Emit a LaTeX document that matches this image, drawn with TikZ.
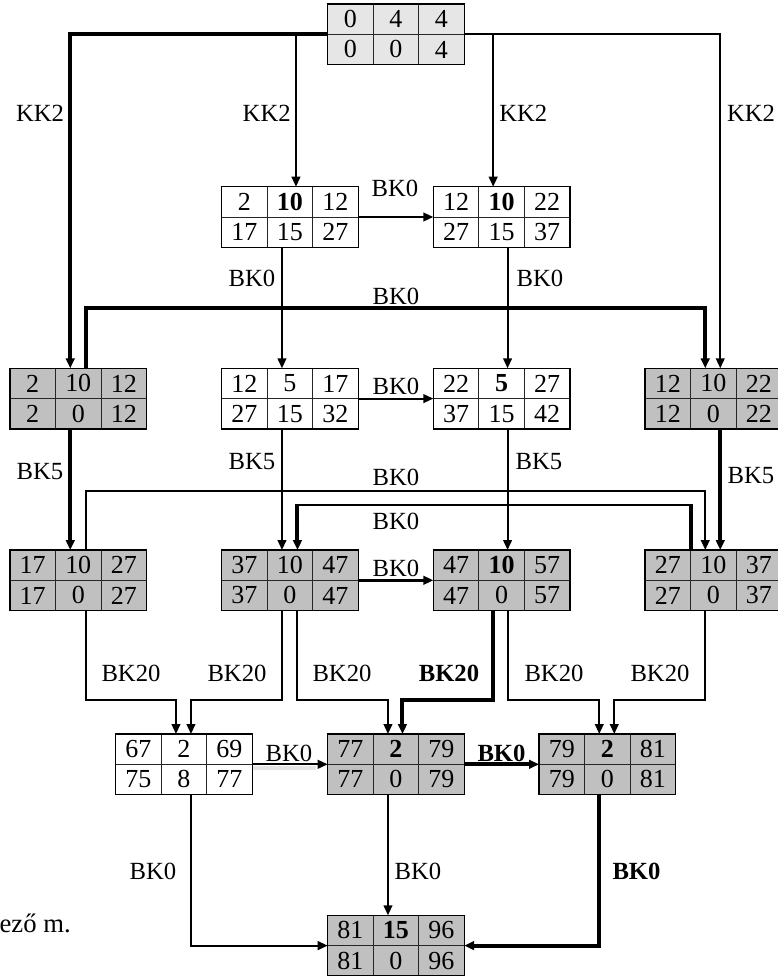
\documentclass[tikz,border=0pt]{standalone}
\usepackage{fontspec}
\setmainfont{Liberation Serif}
\usetikzlibrary{calc,arrows.meta}
\definecolor{boxgray}{HTML}{C0C0C0}
\definecolor{toplight}{HTML}{E6E6E6}
\definecolor{shadowgray}{HTML}{E4E4E4}
\tikzset{
  tbl/.style={draw, line width=1.1pt, minimum width=102.4pt, minimum height=45.45pt, inner sep=0pt, outer sep=0pt},
  gridln/.style={line width=0.7pt, black!85},
  cell/.style={font=\fontsize{19.5}{21}\selectfont, inner sep=0pt},
  lbl/.style={font=\fontsize{18.5}{20}\selectfont, inner sep=0pt},
  tip/.style={-{Triangle[length=7.5pt,width=6.5pt]}},
  plainln/.style={line width=1.5pt},
  heavyln/.style={line width=3pt},
  mediumln/.style={line width=2.2pt},
}
\newcommand{\cellbox}[9]{%
  \node[tbl, fill=#3, anchor=north west] (#1) at #2 {};
  \draw[gridln] ($(#1.north west)+(45.5,0)$) -- ($(#1.south west)+(45.5,0)$)
                ($(#1.north west)+(91,0)$) -- ($(#1.south west)+(91,0)$)
                (#1.west) -- (#1.east);
  \draw[line width=1.1pt] (#1.north west) rectangle (#1.south east);
  \node[cell] at ($(#1.north west)+(22.75,15.15)$) {#4};
  \node[cell] at ($(#1.north west)+(68.25,15.15)$) {#5};
  \node[cell] at ($(#1.north west)+(113.75,15.15)$) {#6};
  \node[cell] at ($(#1.north west)+(22.75,45.45)$) {#7};
  \node[cell] at ($(#1.north west)+(68.25,45.45)$) {#8};
  \node[cell] at ($(#1.north west)+(113.75,45.45)$) {#9};
}
\begin{document}
\begin{tikzpicture}[x=0.75pt,y=-0.75pt]
\useasboundingbox (0,0) rectangle (778,976);
\clip (0,0) rectangle (778,976);

% ---- boxes ----
\cellbox{top}{(327.7,4)}{toplight}{0}{4}{4}{0}{0}{4}
\cellbox{b2}{(221.7,186.7)}{white}{2}{\textbf{10}}{12}{17}{15}{27}
\cellbox{b3}{(433.3,186.7)}{white}{12}{\textbf{10}}{22}{27}{15}{37}
\cellbox{L2}{(10,368.3)}{boxgray}{2}{10}{12}{2}{0}{12}
\cellbox{Ma2}{(221.7,368.3)}{white}{12}{5}{17}{27}{15}{32}
\cellbox{Mb2}{(433.3,368.3)}{white}{22}{\textbf{5}}{27}{37}{15}{42}
\cellbox{R2}{(645,368.3)}{boxgray}{12}{10}{22}{12}{0}{22}
\cellbox{L3}{(10,550)}{boxgray}{17}{10}{27}{17}{0}{27}
\cellbox{Ma3}{(221.7,550)}{boxgray}{37}{10}{47}{37}{0}{47}
\cellbox{Mb3}{(433.3,550)}{boxgray}{47}{\textbf{10}}{57}{47}{0}{57}
\cellbox{R3}{(645,550)}{boxgray}{27}{10}{37}{27}{0}{37}
\cellbox{L4}{(115.7,734)}{white}{67}{2}{69}{75}{8}{77}
\cellbox{M4}{(327.7,734)}{boxgray}{77}{\textbf{2}}{79}{77}{0}{79}
\cellbox{R4}{(539,734)}{boxgray}{79}{\textbf{2}}{81}{79}{0}{81}
\cellbox{bot}{(327.7,915.3)}{boxgray}{81}{\textbf{15}}{96}{81}{0}{96}

% ---- connectors from top ----
\coordinate (b2in) at ($(b2.north)+(6,0)$);
\coordinate (b3in) at ($(b3.north)+(-8.4,0)$);
\draw[heavyln, tip] (top.west) -| ($(L2.north)+(-8,0)$);
\draw[plainln, tip] (top.west -| b2in) -- (b2in);
\draw[plainln, tip] (top.east -| b3in) -- (b3in);
\draw[plainln, tip] (top.east) -| ($(R2.north)+(7,0)$);

% ---- row 1 ----
\draw[plainln, tip] (b2.east) -- (b3.west);
\draw[plainln, tip] ($(b2.south)+(-8,0)$) -- ($(Ma2.north)+(-8,0)$);
\draw[plainln, tip] ($(b3.south)+(6,0)$) -- ($(Mb2.north)+(6,0)$);
\draw[heavyln, tip] ($(L2.north)+(7.5,0)$) -- ++(0,-60) -| ($(R2.north)+(-8,0)$);

% ---- row 2 ----
\draw[plainln, tip] (Ma2.east) -- (Mb2.west);
\draw[heavyln, tip] ($(L2.south)+(-8,0)$) -- ($(L3.north)+(-8,0)$);
\draw[plainln, tip] ($(Ma2.south)+(-8,0)$) -- ($(Ma3.north)+(-8,0)$);
\draw[plainln, tip] ($(Mb2.south)+(6,0)$) -- ($(Mb3.north)+(6,0)$);
\draw[heavyln, tip] ($(R2.south)+(7,0)$) -- ($(R3.north)+(7,0)$);
\draw[plainln, tip] ($(L3.north)+(7.5,0)$) -- ++(0,-59.3) -| ($(R3.north)+(-8,0)$);
% R3 -> Ma3 (heavy verticals, lighter horizontal)
\coordinate (r3out) at ($(R3.north)+(-22.6,0)$);
\coordinate (ma3in) at ($(Ma3.north)+(7.5,0)$);
\draw[plainln] ($(r3out)+(0,-44.7)$) -- ($(ma3in)+(0,-44.7)$);
\draw[heavyln] (r3out) -- ++(0,-44.7) -- ++(0,-1.2);
\draw[heavyln, tip] ($(ma3in)+(0,-45.9)$) -- (ma3in);

% ---- row 3 ----
\draw[mediumln, tip] (Ma3.east) -- (Mb3.west);
\draw[plainln, tip] ($(L3.south)+(7.5,0)$) -- ++(0,89) -| ($(L4.north)+(-8,0)$);
\draw[plainln, tip] ($(Ma3.south)+(-8,0)$) -- ++(0,89) -| ($(L4.north)+(7,0)$);
\draw[plainln, tip] ($(Ma3.south)+(7,0)$) -- ++(0,89) -| ($(M4.north)+(-8,0)$);
\draw[heavyln, tip] ($(Mb3.south)+(-8.4,0)$) -- ++(0,89) -| ($(M4.north)+(6.5,0)$);
\draw[plainln, tip] ($(Mb3.south)+(6.5,0)$) -- ++(0,89) -| ($(R4.north)+(-8,0)$);
\draw[plainln, tip] ($(R3.south)+(-8,0)$) -- ++(0,89) -| ($(R4.north)+(7,0)$);

% ---- row 4 ----
\draw[shadowgray, line width=3pt] ($(L4.east)+(1,3.5)$) -- ($(M4.west)+(-12,3.5)$);
\draw[plainln, tip] (L4.east) -- (M4.west);
\draw[heavyln, tip] (M4.east) -- (R4.west);
\draw[plainln, tip] ($(L4.south)+(7,0)$) |- (bot.west);
\draw[plainln, tip] ($(M4.south)+(-8,0)$) -- ($(bot.north)+(-8,0)$);
\draw[heavyln, tip] ($(R4.south)+(-8,0)$) |- (bot.east);

% ---- labels ----
\node[lbl] (k1) at (40,113) {KK2};
\node[lbl] (k2) at (266.7,113) {KK2};
\node[lbl] (k3) at (523.3,113) {KK2};
\node[lbl] (k4) at (751,113) {KK2};
\node[lbl] (l1) at (395,188) {BK0};
\node[lbl] (l2) at (252,278) {BK0};
\node[lbl] (l3) at (540,278) {BK0};
\node[lbl] (l4) at (396,296) {BK0};
\node[lbl] (l5) at (396,386) {BK0};
\node[lbl] (l6) at (40,472) {BK5};
\node[lbl] (l7) at (252,462) {BK5};
\node[lbl] (l8) at (539,462) {BK5};
\node[lbl] (l9) at (751,476) {BK5};
\node[lbl] (l10) at (396,477) {BK0};
\node[lbl] (l11) at (396,521.7) {BK0};
\node[lbl] (l12) at (396,568) {BK0};
\node[lbl] (l13) at (131,673) {BK20};
\node[lbl] (l14) at (237,673) {BK20};
\node[lbl] (l15) at (342,673) {BK20};
\node[lbl, font=\fontsize{18.5}{20}\selectfont\bfseries] (l16) at (449,673) {BK20};
\node[lbl] (l17) at (554,673) {BK20};
\node[lbl] (l18) at (660,673) {BK20};
\node[lbl] (l19) at (289,753) {BK0};
\node[lbl, font=\fontsize{18.5}{20}\selectfont\bfseries] (l20) at (501.5,753) {BK0};
\node[lbl] (l21) at (153,871) {BK0};
\node[lbl] (l22) at (418,871) {BK0};
\node[lbl, font=\fontsize{18.5}{20}\selectfont\bfseries] (l23) at (636.5,871) {BK0};
\node[lbl, font=\fontsize{20}{22}\selectfont, anchor=base east] (note) at (71,932) {ező m.};
\end{tikzpicture}
\end{document}
